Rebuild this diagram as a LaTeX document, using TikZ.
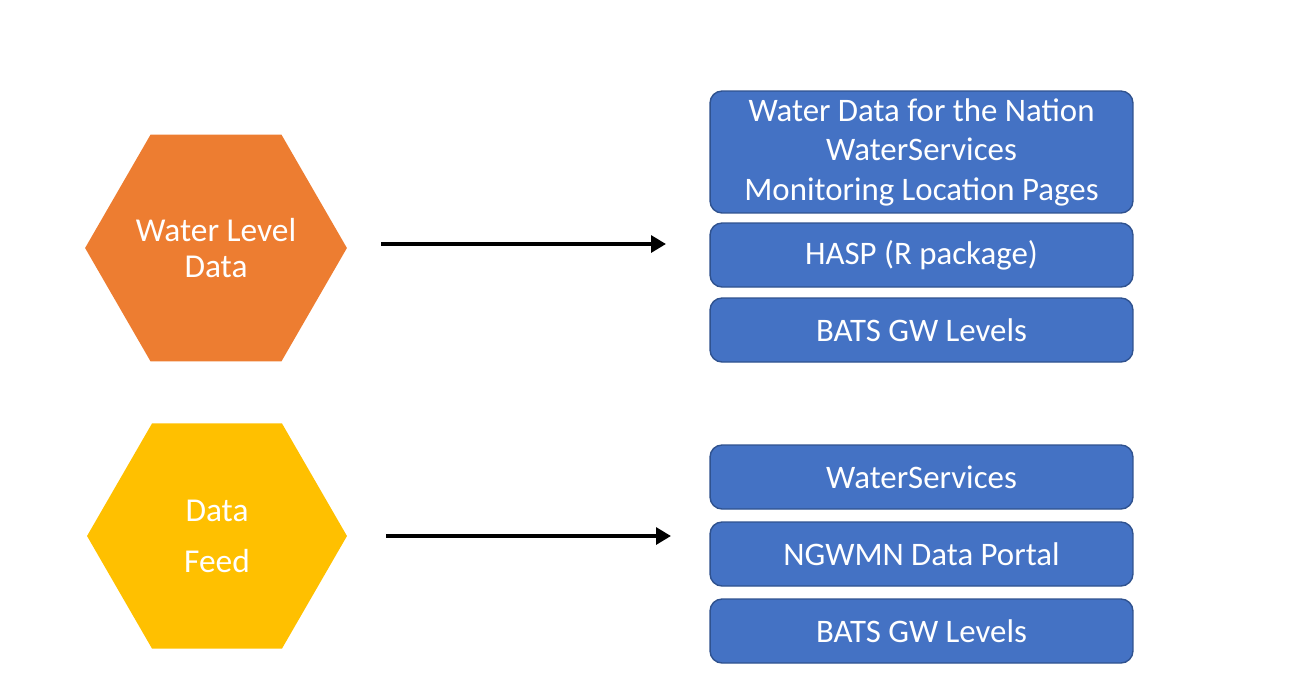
\documentclass[tikz,border=0pt]{standalone}
\usepackage{fontspec}
\setmainfont{Carlito}
\usepackage{tikz}
\usetikzlibrary{shapes.geometric}
\usetikzlibrary{arrows.meta}

\definecolor{hexorange}{HTML}{ED7D31}
\definecolor{hexyellow}{HTML}{FFC000}
\definecolor{boxblue}{HTML}{4472C4}
\definecolor{boxedge}{HTML}{2F528F}

\tikzset{
	hex/.style={regular polygon, regular polygon sides=6, minimum size=5.2cm,
		inner sep=0pt, text=white, align=center},
	outbox/.style={draw=boxedge, line width=0.8pt, fill=boxblue,
		rounded corners=0.24cm, minimum width=8.46cm, minimum height=1.28cm,
		inner sep=0pt, text=white, align=center,
		font=\fontsize{18.7}{22.5}\selectfont},
	feed/.style={line width=2.3pt, -{Triangle[length=8.5pt,width=9.5pt]}}
}

\begin{document}
\begin{tikzpicture}[x=0.02cm, y=-0.02cm]

	% page frame, in pixels of the original slide
	\useasboundingbox (0,0) rectangle (1294,684);

	% the two sources
	\node[hex, fill=hexorange, font=\fontsize{19}{21}\selectfont] (WL) at (216,248) {Water Level\\Data};
	\node[hex, fill=hexyellow, font=\fontsize{19}{29}\selectfont] (DF) at (217,536) {Data\\Feed};

	% where water level data goes
	\node[outbox, minimum height=2.44cm] (WDN) at (921.5,152)
		{Water Data for the Nation\\WaterServices\\Monitoring Location Pages};
	\node[outbox] (HASP)  at (921.5,255) {HASP (R package)};
	\node[outbox] (BATS1) at (921.5,330) {BATS GW Levels};

	% where the data feed goes
	\node[outbox] (WS)    at (921.5,477) {WaterServices};
	\node[outbox] (NGWMN) at (921.5,554) {NGWMN Data Portal};
	\node[outbox] (BATS2) at (921.5,631) {BATS GW Levels};

	% arrows float between the columns
	\coordinate (A1) at (381,244);
	\coordinate (B1) at (666,244);
	\coordinate (A2) at (386,536);
	\coordinate (B2) at (671,536);

	\draw[feed] (A1) -- (B1);
	\draw[feed] (A2) -- (B2);

\end{tikzpicture}
\end{document}
